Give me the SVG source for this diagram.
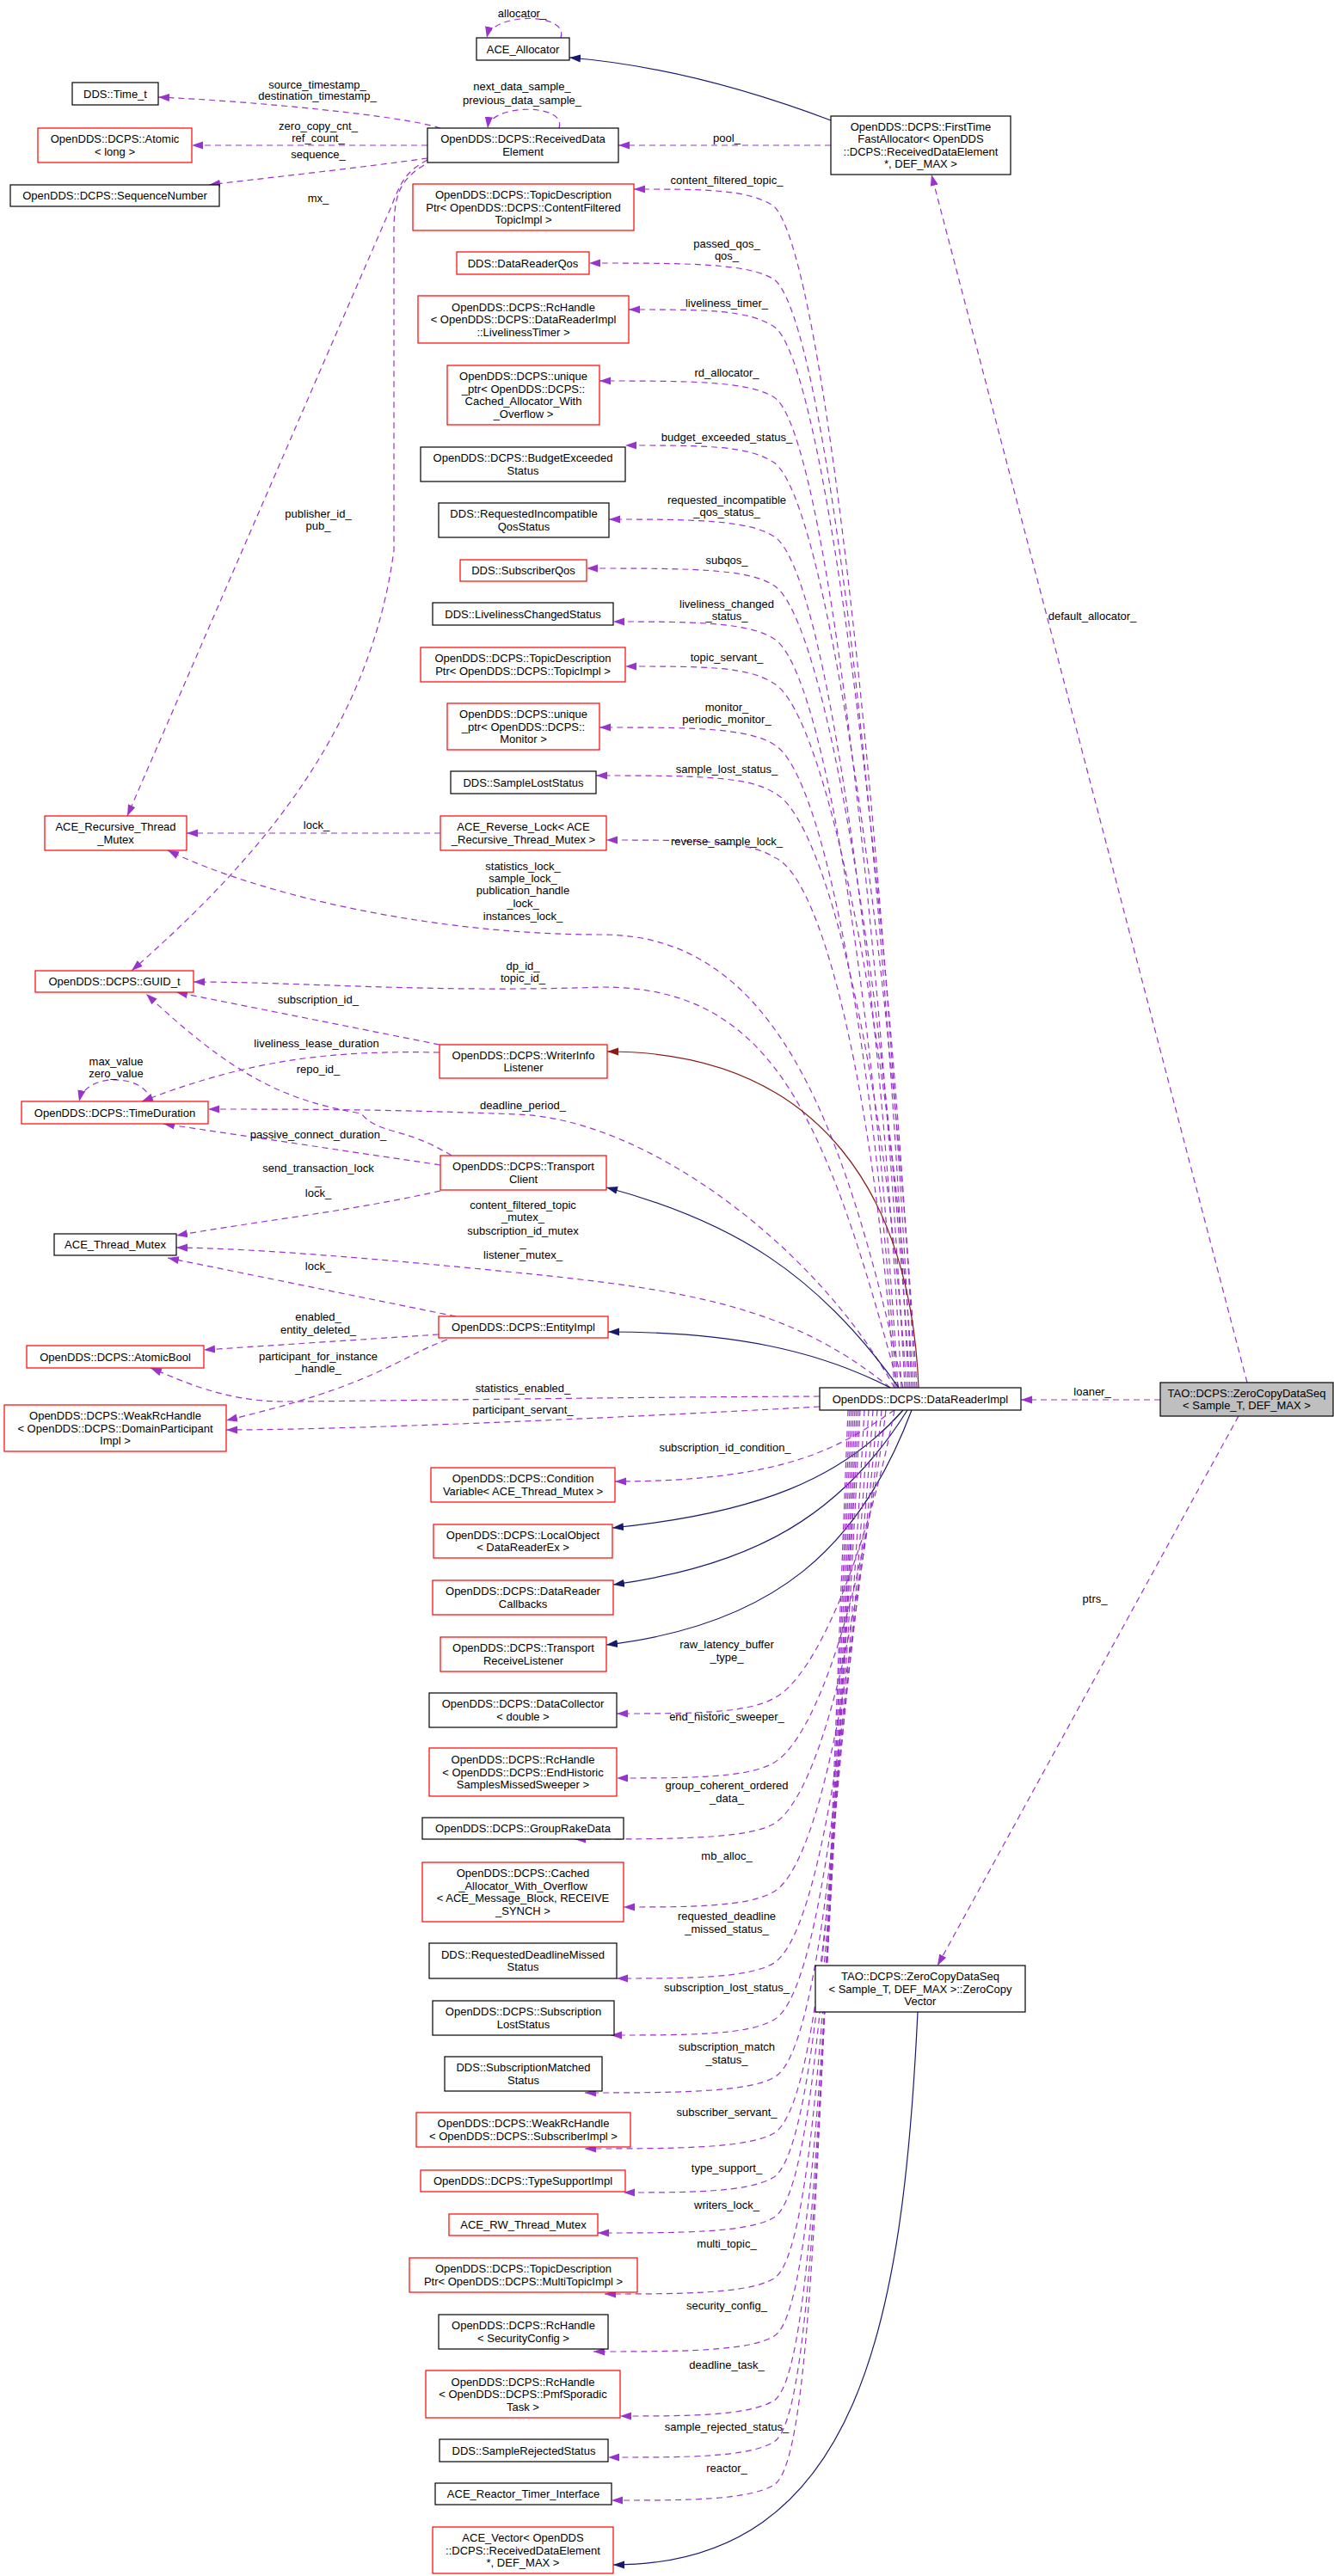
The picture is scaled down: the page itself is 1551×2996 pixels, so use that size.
<svg xmlns="http://www.w3.org/2000/svg" width="1551" height="2996" viewBox="0 0 1551 2996">
<style>
text{font-family:"Liberation Sans",Arial,sans-serif;font-size:13px;text-anchor:middle;fill:#000}
.n rect{fill:#fff;stroke:#000;stroke-width:1.2}
.n.r rect{stroke:#f00}
.n.g rect{fill:#bfbfbf}
.d{fill:none;stroke:#9a32cd;stroke-width:1.2;stroke-dasharray:7,5;marker-end:url(#ap)}
.i{fill:none;stroke:#191970;stroke-width:1.2;marker-end:url(#an)}
.w{fill:none;stroke:#8b1a1a;stroke-width:1.2;marker-end:url(#aw)}
</style>
<defs>
<marker id="ap" viewBox="0 0 10 7" refX="10" refY="3.5" markerWidth="13" markerHeight="10" markerUnits="userSpaceOnUse" orient="auto"><path d="M0,0L10,3.5L0,7z" fill="#9a32cd"/></marker>
<marker id="an" viewBox="0 0 10 7" refX="10" refY="3.5" markerWidth="13" markerHeight="10" markerUnits="userSpaceOnUse" orient="auto"><path d="M0,0L10,3.5L0,7z" fill="#191970"/></marker>
<marker id="aw" viewBox="0 0 10 7" refX="10" refY="3.5" markerWidth="13" markerHeight="10" markerUnits="userSpaceOnUse" orient="auto"><path d="M0,0L10,3.5L0,7z" fill="#8b1a1a"/></marker>
</defs>
<rect width="1551" height="2996" fill="#fff"/>
<g id="edges">
<path class="d" d="M652 44C662 14 572 14 566 44"/><text x="607" y="20">allocator_</text>
<path class="i" d="M966 140C860 100 760 75 662 67"/>
<path class="d" d="M512 149C470 135 300 118 184 113"/><text x="369" y="103">source_timestamp_</text><text x="369" y="116">destination_timestamp_</text>
<path class="d" d="M497 169L223 169"/><text x="370" y="151">zero_copy_cnt_</text><text x="370" y="165">ref_count_</text>
<path class="d" d="M497 184C420 195 300 208 243 215"/><text x="370" y="184">sequence_</text>
<path class="d" d="M650 149C660 120 570 120 567 149"/><text x="607" y="105">next_data_sample_</text><text x="607" y="121">previous_data_sample_</text>
<path class="d" d="M966 169L719 169"/><text x="845" y="165">pool_</text>
<path class="d" d="M497 186C470 200 465 215 455 240L148 949"/><text x="370" y="235">mx_</text>
<path class="d" d="M493 192C455 215 458 240 458 300L458 640C430 850 300 1000 153 1129"/><text x="370" y="602">publisher_id_</text><text x="370" y="616">pub_</text>
<path class="d" d="M1450 1608L1083 203"/><text x="1270" y="721">default_allocator_</text>
<path class="d" d="M1060 1614C1030 1000 960 300 900 240C870 220 820 220 737 220"/><text x="845" y="214">content_filtered_topic_</text>
<path class="d" d="M1056 1614C1030 1000 960 370 900 325C870 306 800 306 685 306"/><text x="845" y="288">passed_qos_</text><text x="845" y="302">qos_</text>
<path class="d" d="M1064 1614C1035 1050 960 420 900 380C870 360 820 360 731 360"/><text x="845" y="357">liveliness_timer_</text>
<path class="d" d="M1052 1614C1025 1100 960 500 900 462C870 443 800 443 697 443"/><text x="845" y="438">rd_allocator_</text>
<path class="d" d="M1066 1614C1035 1100 960 580 900 538C870 518 820 518 727 518"/><text x="845" y="513">budget_exceeded_status_</text>
<path class="d" d="M1048 1614C1025 1150 960 660 900 624C870 604 800 604 708 604"/><text x="845" y="586">requested_incompatible</text><text x="845" y="600">_qos_status_</text>
<path class="d" d="M1058 1614C1030 1150 960 720 900 681C870 661 800 661 682 661"/><text x="845" y="656">subqos_</text>
<path class="d" d="M1044 1614C1020 1200 960 780 900 743C870 723 800 723 713 723"/><text x="845" y="707">liveliness_changed</text><text x="845" y="721">_status_</text>
<path class="d" d="M1062 1614C1035 1200 960 830 900 795C870 775 820 775 727 775"/><text x="845" y="769">topic_servant_</text>
<path class="d" d="M1042 1614C1020 1250 960 900 900 866C870 846 800 846 697 846"/><text x="845" y="827">monitor_</text><text x="845" y="841">periodic_monitor_</text>
<path class="d" d="M1054 1614C1030 1250 960 950 900 922C870 902 800 902 693 902"/><text x="845" y="899">sample_lost_status_</text>
<path class="d" d="M1040 1614C1020 1300 960 1020 900 997C870 977 800 977 705 977"/><text x="845" y="983">reverse_sample_lock_</text>
<path class="d" d="M512 969L217 969"/><text x="368" y="964">lock_</text>
<path class="d" d="M1050 1614C980 1300 900 1087 700 1087C500 1087 300 1040 195 989"/><text x="608" y="1012">statistics_lock_</text><text x="608" y="1026">sample_lock_</text><text x="608" y="1040">publication_handle</text><text x="608" y="1055">_lock_</text><text x="608" y="1070">instances_lock_</text>
<path class="d" d="M1045 1614C960 1300 900 1148 700 1148C500 1155 350 1142 225 1142"/><text x="608" y="1128">dp_id_</text><text x="608" y="1142">topic_id_</text>
<path class="d" d="M511 1215L205 1154"/><text x="370" y="1167">subscription_id_</text>
<path class="d" d="M511 1224C400 1222 300 1228 165 1281"/><text x="368" y="1218">liveliness_lease_duration</text>
<path class="d" d="M175 1281C172 1250 100 1245 92 1281"/><text x="135" y="1239">max_value</text><text x="135" y="1253">zero_value</text>
<path class="d" d="M525 1344C470 1310 440 1320 420 1295C330 1280 270 1250 170 1156"/><text x="370" y="1248">repo_id_</text>
<path class="d" d="M1040 1614C950 1450 750 1300 600 1296C450 1290 350 1290 242 1290"/><text x="608" y="1290">deadline_period_</text>
<path class="d" d="M512 1355L190 1307"/><text x="370" y="1324">passive_connect_duration_</text>
<path class="d" d="M512 1385C400 1410 300 1420 205 1437"/><text x="370" y="1363">send_transaction_lock</text><text x="370" y="1378">_</text><text x="370" y="1392">lock_</text>
<path class="d" d="M1035 1614C920 1520 800 1500 600 1480C450 1465 300 1452 205 1451"/><text x="608" y="1406">content_filtered_topic</text><text x="608" y="1420">_mutex_</text><text x="608" y="1436">subscription_id_mutex</text><text x="608" y="1450">_</text><text x="608" y="1464">listener_mutex_</text>
<path class="d" d="M530 1531L195 1463"/><text x="370" y="1477">lock_</text>
<path class="d" d="M510 1552L237 1570"/><text x="370" y="1536">enabled_</text><text x="370" y="1551">entity_deleted_</text>
<path class="d" d="M520 1558C460 1580 440 1610 263 1652"/><text x="370" y="1582">participant_for_instance</text><text x="370" y="1596">_handle_</text>
<path class="d" d="M953 1624C700 1625 400 1630 330 1630C260 1630 210 1605 175 1591"/><text x="608" y="1619">statistics_enabled_</text>
<path class="d" d="M953 1636C700 1650 400 1663 263 1663"/><text x="608" y="1644">participant_servant_</text>
<path class="d" d="M1349 1628L1187 1628"/><text x="1270" y="1623">loaner_</text>
<path class="d" d="M1440 1647L1090 2286"/><text x="1273" y="1864">ptrs_</text>
<path class="w" d="M1068 1614C1060 1400 960 1223 706 1223"/>
<path class="i" d="M1045 1614C950 1480 850 1420 705 1381"/>
<path class="i" d="M1035 1614C950 1570 850 1549 707 1549"/>
<path class="d" d="M1040 1640C980 1680 920 1723 715 1723"/><text x="843" y="1688">subscription_id_condition_</text>
<path class="i" d="M1050 1640C980 1720 880 1760 712 1777"/>
<path class="i" d="M1055 1640C980 1760 880 1820 713 1843"/>
<path class="i" d="M1060 1640C1000 1800 900 1890 705 1913"/>
<path class="d" d="M1040 1640C1010 1800 950 1950 900 1975C870 1993 800 1993 717 1993"/><text x="845" y="1917">raw_latency_buffer</text><text x="845" y="1932">_type_</text>
<path class="d" d="M1030 1640C1005 1850 950 2020 900 2050C870 2068 800 2068 717 2068"/><text x="845" y="2001">end_historic_sweeper_</text>
<path class="d" d="M1025 1640C1000 1900 950 2090 900 2121C870 2139 780 2139 668 2139"/><text x="845" y="2081">group_coherent_ordered</text><text x="845" y="2096">_data_</text>
<path class="d" d="M1020 1640C995 1950 950 2170 900 2200C870 2218 800 2218 725 2218"/><text x="845" y="2163">mb_alloc_</text>
<path class="d" d="M1015 1640C990 2000 950 2250 900 2283C870 2301 800 2301 717 2301"/><text x="845" y="2233">requested_deadline</text><text x="845" y="2248">_missed_status_</text>
<path class="d" d="M1010 1640C985 2050 950 2320 900 2349C870 2367 800 2367 710 2367"/><text x="845" y="2316">subscription_lost_status_</text>
<path class="d" d="M1005 1640C980 2100 950 2390 900 2416C870 2434 780 2434 680 2434"/><text x="845" y="2385">subscription_match</text><text x="845" y="2400">_status_</text>
<path class="d" d="M1000 1640C975 2150 950 2450 900 2481C870 2499 780 2499 680 2499"/><text x="845" y="2461">subscriber_servant_</text>
<path class="d" d="M998 1640C970 2200 945 2500 900 2532C870 2550 800 2550 725 2550"/><text x="845" y="2526">type_support_</text>
<path class="d" d="M996 1640C968 2250 945 2550 900 2579C870 2597 790 2597 695 2597"/><text x="845" y="2569">writers_lock_</text>
<path class="d" d="M994 1640C965 2300 945 2620 900 2650C870 2668 790 2668 703 2668"/><text x="845" y="2614">multi_topic_</text>
<path class="d" d="M992 1640C962 2350 945 2690 900 2717C870 2735 790 2735 690 2735"/><text x="845" y="2686">security_config_</text>
<path class="d" d="M990 1640C958 2400 945 2760 900 2792C870 2810 800 2810 721 2810"/><text x="845" y="2755">deadline_task_</text>
<path class="d" d="M988 1640C955 2450 945 2810 900 2840C870 2858 800 2858 707 2858"/><text x="845" y="2827">sample_rejected_status_</text>
<path class="d" d="M986 1640C952 2500 945 2860 900 2890C870 2908 800 2908 711 2908"/><text x="845" y="2875">reactor_</text>
<path class="i" d="M1067 2340C1050 2700 1000 2983 713 2983"/>
</g>
<g id="ACE_Allocator" class="n"><rect x="554" y="44" width="108" height="26"/><text x="608" y="61.5">ACE_Allocator</text></g>
<g id="Time_t" class="n"><rect x="84" y="96" width="100" height="26"/><text x="134" y="113.5">DDS::Time_t</text></g>
<g id="Atomic" class="n r"><rect x="44" y="149" width="179" height="40"/><text x="133.5" y="166.25">OpenDDS::DCPS::Atomic<tspan x="133.5" dy="14.5">&lt; long &gt;</tspan></text></g>
<g id="SeqNum" class="n"><rect x="12" y="215" width="243" height="25"/><text x="133.5" y="232">OpenDDS::DCPS::SequenceNumber</text></g>
<g id="RDE" class="n"><rect x="497" y="149" width="222" height="40"/><text x="608" y="166.25">OpenDDS::DCPS::ReceivedData<tspan x="608" dy="14.5">Element</tspan></text></g>
<g id="FirstTime" class="n"><rect x="966" y="135" width="209" height="68"/><text x="1070.5" y="151.75">OpenDDS::DCPS::FirstTime<tspan x="1070.5" dy="14.5">FastAllocator&lt; OpenDDS</tspan><tspan x="1070.5" dy="14.5">::DCPS::ReceivedDataElement</tspan><tspan x="1070.5" dy="14.5">*, DEF_MAX &gt;</tspan></text></g>
<g id="TDP_CF" class="n r"><rect x="480" y="214" width="257" height="54"/><text x="608.5" y="231">OpenDDS::DCPS::TopicDescription<tspan x="608.5" dy="14.5">Ptr&lt; OpenDDS::DCPS::ContentFiltered</tspan><tspan x="608.5" dy="14.5">TopicImpl &gt;</tspan></text></g>
<g id="DRQos" class="n r"><rect x="531" y="293" width="154" height="26"/><text x="608" y="310.5">DDS::DataReaderQos</text></g>
<g id="RcLiv" class="n r"><rect x="486" y="344" width="245" height="55"/><text x="608.5" y="361.5">OpenDDS::DCPS::RcHandle<tspan x="608.5" dy="14.5">&lt; OpenDDS::DCPS::DataReaderImpl</tspan><tspan x="608.5" dy="14.5">::LivelinessTimer &gt;</tspan></text></g>
<g id="UPCached" class="n r"><rect x="520" y="425" width="177" height="69"/><text x="608.5" y="442.25">OpenDDS::DCPS::unique<tspan x="608.5" dy="14.5">_ptr&lt; OpenDDS::DCPS::</tspan><tspan x="608.5" dy="14.5">Cached_Allocator_With</tspan><tspan x="608.5" dy="14.5">_Overflow &gt;</tspan></text></g>
<g id="Budget" class="n"><rect x="489" y="520" width="238" height="40"/><text x="608" y="537.25">OpenDDS::DCPS::BudgetExceeded<tspan x="608" dy="14.5">Status</tspan></text></g>
<g id="ReqInc" class="n"><rect x="510" y="585" width="198" height="40"/><text x="609" y="602.25">DDS::RequestedIncompatible<tspan x="609" dy="14.5">QosStatus</tspan></text></g>
<g id="SubQos" class="n r"><rect x="535" y="651" width="147" height="25"/><text x="608.5" y="668">DDS::SubscriberQos</text></g>
<g id="LivChg" class="n"><rect x="503" y="701" width="210" height="26"/><text x="608" y="718.5">DDS::LivelinessChangedStatus</text></g>
<g id="TDP_Topic" class="n r"><rect x="489" y="753" width="238" height="40"/><text x="608" y="770.25">OpenDDS::DCPS::TopicDescription<tspan x="608" dy="14.5">Ptr&lt; OpenDDS::DCPS::TopicImpl &gt;</tspan></text></g>
<g id="UPMon" class="n r"><rect x="520" y="818" width="177" height="54"/><text x="608.5" y="835">OpenDDS::DCPS::unique<tspan x="608.5" dy="14.5">_ptr&lt; OpenDDS::DCPS::</tspan><tspan x="608.5" dy="14.5">Monitor &gt;</tspan></text></g>
<g id="SampleLost" class="n"><rect x="524" y="897" width="169" height="26"/><text x="608.5" y="914.5">DDS::SampleLostStatus</text></g>
<g id="RevLock" class="n r"><rect x="512" y="949" width="193" height="40"/><text x="608.5" y="966.25">ACE_Reverse_Lock&lt; ACE<tspan x="608.5" dy="14.5">_Recursive_Thread_Mutex &gt;</tspan></text></g>
<g id="RecMutex" class="n r"><rect x="52" y="949" width="165" height="40"/><text x="134.5" y="966.25">ACE_Recursive_Thread<tspan x="134.5" dy="14.5">_Mutex</tspan></text></g>
<g id="GUID" class="n r"><rect x="41" y="1129" width="184" height="25"/><text x="133" y="1146">OpenDDS::DCPS::GUID_t</text></g>
<g id="WIL" class="n r"><rect x="511" y="1215" width="195" height="39"/><text x="608.5" y="1231.75">OpenDDS::DCPS::WriterInfo<tspan x="608.5" dy="14.5">Listener</tspan></text></g>
<g id="TimeDur" class="n r"><rect x="25" y="1281" width="217" height="26"/><text x="133.5" y="1298.5">OpenDDS::DCPS::TimeDuration</text></g>
<g id="TC" class="n r"><rect x="512" y="1344" width="193" height="40"/><text x="608.5" y="1361.25">OpenDDS::DCPS::Transport<tspan x="608.5" dy="14.5">Client</tspan></text></g>
<g id="ATM" class="n"><rect x="63" y="1435" width="142" height="25"/><text x="134" y="1452">ACE_Thread_Mutex</text></g>
<g id="Entity" class="n r"><rect x="510" y="1531" width="197" height="25"/><text x="608.5" y="1548">OpenDDS::DCPS::EntityImpl</text></g>
<g id="AtomicBool" class="n r"><rect x="31" y="1565" width="206" height="26"/><text x="134" y="1582.5">OpenDDS::DCPS::AtomicBool</text></g>
<g id="WeakDP" class="n r"><rect x="5" y="1634" width="258" height="54"/><text x="134" y="1651">OpenDDS::DCPS::WeakRcHandle<tspan x="134" dy="14.5">&lt; OpenDDS::DCPS::DomainParticipant</tspan><tspan x="134" dy="14.5">Impl &gt;</tspan></text></g>
<g id="DRI" class="n"><rect x="953" y="1614" width="234" height="26"/><text x="1070" y="1631.5">OpenDDS::DCPS::DataReaderImpl</text></g>
<g id="ZCDS" class="n g"><rect x="1349" y="1608" width="201" height="39"/><text x="1449.5" y="1624.75">TAO::DCPS::ZeroCopyDataSeq<tspan x="1449.5" dy="14.5">&lt; Sample_T, DEF_MAX &gt;</tspan></text></g>
<g id="CondVar" class="n r"><rect x="501" y="1707" width="214" height="40"/><text x="608" y="1724.25">OpenDDS::DCPS::Condition<tspan x="608" dy="14.5">Variable&lt; ACE_Thread_Mutex &gt;</tspan></text></g>
<g id="LocalObj" class="n r"><rect x="504" y="1773" width="208" height="39"/><text x="608" y="1789.75">OpenDDS::DCPS::LocalObject<tspan x="608" dy="14.5">&lt; DataReaderEx &gt;</tspan></text></g>
<g id="DRCb" class="n r"><rect x="503" y="1838" width="210" height="40"/><text x="608" y="1855.25">OpenDDS::DCPS::DataReader<tspan x="608" dy="14.5">Callbacks</tspan></text></g>
<g id="TRL" class="n r"><rect x="512" y="1904" width="193" height="40"/><text x="608.5" y="1921.25">OpenDDS::DCPS::Transport<tspan x="608.5" dy="14.5">ReceiveListener</tspan></text></g>
<g id="DataColl" class="n"><rect x="499" y="1969" width="218" height="40"/><text x="608" y="1986.25">OpenDDS::DCPS::DataCollector<tspan x="608" dy="14.5">&lt; double &gt;</tspan></text></g>
<g id="RcEH" class="n r"><rect x="499" y="2033" width="218" height="56"/><text x="608" y="2051">OpenDDS::DCPS::RcHandle<tspan x="608" dy="14.5">&lt; OpenDDS::DCPS::EndHistoric</tspan><tspan x="608" dy="14.5">SamplesMissedSweeper &gt;</tspan></text></g>
<g id="GRD" class="n"><rect x="491" y="2114" width="234" height="25"/><text x="608" y="2131">OpenDDS::DCPS::GroupRakeData</text></g>
<g id="CachedAlloc" class="n r"><rect x="491" y="2166" width="234" height="69"/><text x="608" y="2183.25">OpenDDS::DCPS::Cached<tspan x="608" dy="14.5">_Allocator_With_Overflow</tspan><tspan x="608" dy="14.5">&lt; ACE_Message_Block, RECEIVE</tspan><tspan x="608" dy="14.5">_SYNCH &gt;</tspan></text></g>
<g id="ReqDL" class="n"><rect x="499" y="2260" width="218" height="41"/><text x="608" y="2277.75">DDS::RequestedDeadlineMissed<tspan x="608" dy="14.5">Status</tspan></text></g>
<g id="SubLost" class="n"><rect x="503" y="2327" width="211" height="40"/><text x="608.5" y="2344.25">OpenDDS::DCPS::Subscription<tspan x="608.5" dy="14.5">LostStatus</tspan></text></g>
<g id="SubMatch" class="n"><rect x="517" y="2392" width="183" height="40"/><text x="608.5" y="2409.25">DDS::SubscriptionMatched<tspan x="608.5" dy="14.5">Status</tspan></text></g>
<g id="WeakSub" class="n r"><rect x="484" y="2457" width="249" height="40"/><text x="608.5" y="2474.25">OpenDDS::DCPS::WeakRcHandle<tspan x="608.5" dy="14.5">&lt; OpenDDS::DCPS::SubscriberImpl &gt;</tspan></text></g>
<g id="TSI" class="n r"><rect x="489" y="2524" width="238" height="25"/><text x="608" y="2541">OpenDDS::DCPS::TypeSupportImpl</text></g>
<g id="RW" class="n r"><rect x="522" y="2575" width="173" height="25"/><text x="608.5" y="2592">ACE_RW_Thread_Mutex</text></g>
<g id="TDP_MT" class="n r"><rect x="476" y="2626" width="265" height="40"/><text x="608.5" y="2643.25">OpenDDS::DCPS::TopicDescription<tspan x="608.5" dy="14.5">Ptr&lt; OpenDDS::DCPS::MultiTopicImpl &gt;</tspan></text></g>
<g id="RcSec" class="n"><rect x="510" y="2692" width="197" height="40"/><text x="608.5" y="2709.25">OpenDDS::DCPS::RcHandle<tspan x="608.5" dy="14.5">&lt; SecurityConfig &gt;</tspan></text></g>
<g id="RcPmf" class="n r"><rect x="495" y="2757" width="226" height="55"/><text x="608" y="2774.5">OpenDDS::DCPS::RcHandle<tspan x="608" dy="14.5">&lt; OpenDDS::DCPS::PmfSporadic</tspan><tspan x="608" dy="14.5">Task &gt;</tspan></text></g>
<g id="SRS" class="n"><rect x="511" y="2837" width="196" height="26"/><text x="609" y="2854.5">DDS::SampleRejectedStatus</text></g>
<g id="ARTI" class="n"><rect x="506" y="2888" width="205" height="25"/><text x="608.5" y="2905">ACE_Reactor_Timer_Interface</text></g>
<g id="ACEVec" class="n r"><rect x="503" y="2939" width="210" height="54"/><text x="608" y="2956">ACE_Vector&lt; OpenDDS<tspan x="608" dy="14.5">::DCPS::ReceivedDataElement</tspan><tspan x="608" dy="14.5">*, DEF_MAX &gt;</tspan></text></g>
<g id="ZCV" class="n"><rect x="948" y="2286" width="244" height="54"/><text x="1070" y="2303">TAO::DCPS::ZeroCopyDataSeq<tspan x="1070" dy="14.5">&lt; Sample_T, DEF_MAX &gt;::ZeroCopy</tspan><tspan x="1070" dy="14.5">Vector</tspan></text></g>
</svg>
